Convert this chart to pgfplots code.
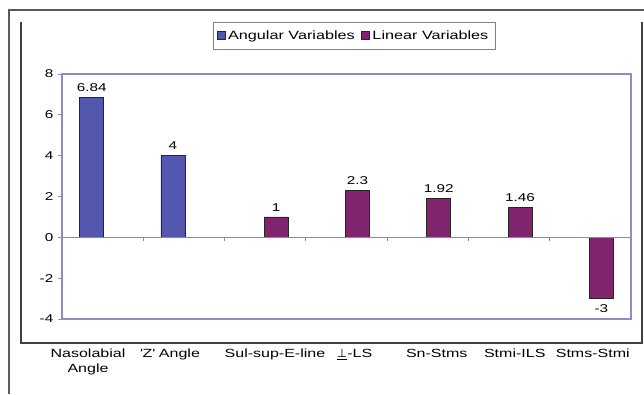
\documentclass[border=0pt]{standalone}
\usepackage{fontspec}
\setmainfont{Liberation Sans}[FakeStretch=1.35]
\newfontfamily\dejavu{DejaVu Sans}
\usepackage{pgfplots}
\pgfplotsset{compat=1.18}
\definecolor{angblue}{HTML}{5457AE}
\definecolor{linpurp}{HTML}{80246E}
\definecolor{axcol}{HTML}{8C8CC8}
\begin{document}
\begin{tikzpicture}
\useasboundingbox (0,0) rectangle (483pt,-295.5pt);
\draw[line width=1pt, black!65] (6.75pt,-295.5pt) -- (6.75pt,-7.5pt) -- (483pt,-7.5pt);
\draw[line width=1.2pt, black!75] (15.75pt,-16.5pt) -- (15.75pt,-257.25pt) -- (481.5pt,-257.25pt) -- (481.5pt,-16.5pt);
\begin{axis}[
  at={(46.5pt,-239.25pt)}, anchor=south west,
  scale only axis, width=426.75pt, height=183.75pt,
  xmin=-0.5, xmax=6.5, ymin=-4, ymax=8,
  ytick={-4,-2,0,2,4,6,8},
  xtick={-0.18,0.83,2.12,3.10,4.11,5.07,6.03},
  xticklabels={{Nasolabial\\Angle},{\textquotesingle Z\textquotesingle{} Angle},{Sul-sup-E-line},{{\dejavu\underline{⊥}}-LS},{Sn-Stms},{Stmi-ILS},{Stms-Stmi}},
  xticklabel style={align=center, font=\fontsize{8.9}{11.5}\selectfont, yshift=-16pt},
  yticklabel style={font=\fontsize{8.5}{10}\selectfont},
  /pgf/number format/assume math mode=true,
  x tick style={draw=none},
  y tick style={draw=axcol, line width=0.6pt},
  tick align=outside, ytick pos=left, major tick length=3pt,
  axis line style={draw=axcol, line width=0.8pt},
  legend style={at={(0.265,1.212)}, anchor=north west, legend columns=2, draw=black!50,
    font=\fontsize{9}{10}\selectfont, inner xsep=3pt, inner ysep=4pt,
    /tikz/every even column/.append style={column sep=3pt}},
  legend image code/.code={\draw[#1, line width=0.6pt] (0cm,-0.1cm) rectangle (0.2cm,0.1cm);},
  nodes near coords,
  every node near coord/.append style={font=\fontsize{8.5}{10}\selectfont, text=black, inner sep=4pt},
]
\addplot[ybar, bar width=0.295, bar shift=0pt, fill=angblue, draw=black!85, line width=0.6pt]
  coordinates {(-0.135,6.84) (0.865,4)};
\addlegendentry{Angular Variables}
\addplot[ybar, bar width=0.295, bar shift=0pt, fill=linpurp, draw=black!85, line width=0.6pt]
  coordinates {(2.135,1) (3.135,2.3) (4.135,1.92) (5.135,1.46) (6.135,-3)};
\addlegendentry{Linear Variables}
\draw[black!45, line width=0.6pt] (axis cs:-0.5,0) -- (axis cs:6.5,0);
\pgfplotsinvokeforeach{0.5,1.5,2.5,3.5,4.5,5.5}{\draw[black!45, line width=0.6pt] (axis cs:#1,0) -- ([yshift=-3pt]axis cs:#1,0);}
\end{axis}
\end{tikzpicture}
\end{document}
